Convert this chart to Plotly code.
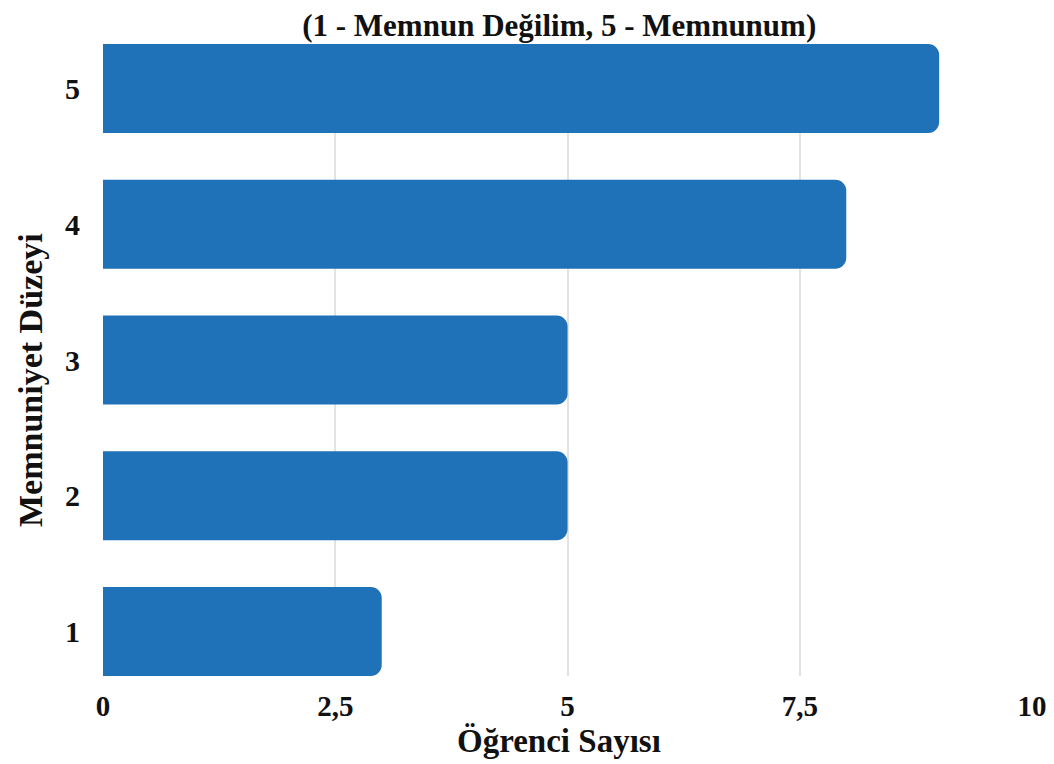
import plotly.graph_objects as go

levels = [1, 2, 3, 4, 5]
students = [3, 5, 5, 8, 9]

title_text = "<b>(1 - Memnun Değilim, 5 - Memnunum)</b>"
x_title = "<b>Öğrenci Sayısı</b>"
y_title = "<b>Memnuniyet Düzeyi</b>"

serif = "Liberation Serif, DejaVu Serif, serif"

# page has an 8px body margin
W, H = 1046, 756

fig = go.Figure(
    go.Bar(
        x=students,
        y=levels,
        orientation="h",
        width=0.656,
        marker=dict(color="#1f72b8", line=dict(width=0)),
    )
)

fig.update_layout(
    width=W,
    height=H,
    paper_bgcolor="white",
    plot_bgcolor="white",
    separators=",.",
    barcornerradius=11,
    showlegend=False,
    margin=dict(l=95, r=21, t=36, b=88),
    title=dict(
        text=title_text,
        x=0.527,
        xanchor="center",
        y=1 - 17 / H,
        yanchor="middle",
        font=dict(family=serif, size=31, color="#111111"),
    ),
    font=dict(family=serif, color="#111111"),
)

# axis titles as annotations so their place is fixed
fig.add_annotation(
    text=x_title, xref="paper", yref="paper", x=0.49, y=0,
    xanchor="center", yanchor="middle", yshift=-65, showarrow=False,
    font=dict(family=serif, size=33, color="#111111"),
)
fig.add_annotation(
    text=y_title, xref="paper", yref="paper", x=0, y=0.5,
    xanchor="center", yanchor="middle", xshift=-73, yshift=-20,
    textangle=-90, showarrow=False,
    font=dict(family=serif, size=34, color="#111111"),
)

fig.update_xaxes(
    range=[0, 10.01],
    dtick=2.5,
    tick0=0,
    automargin=False,
    showgrid=True,
    gridcolor="#e3e3e3",
    gridwidth=1.5,
    zeroline=False,
    showline=False,
    ticks="",
    tickfont=dict(family=serif, size=29, color="#111111", weight="bold"),
    ticklabelstandoff=10,
)

fig.update_yaxes(
    range=[1 - 0.328, 5 + 0.328],
    tickvals=levels,
    automargin=False,
    showgrid=False,
    zeroline=False,
    showline=False,
    ticks="",
    tickfont=dict(family=serif, size=30, color="#111111", weight="bold"),
    ticklabelstandoff=22,
)

fig.write_html("out.html")
